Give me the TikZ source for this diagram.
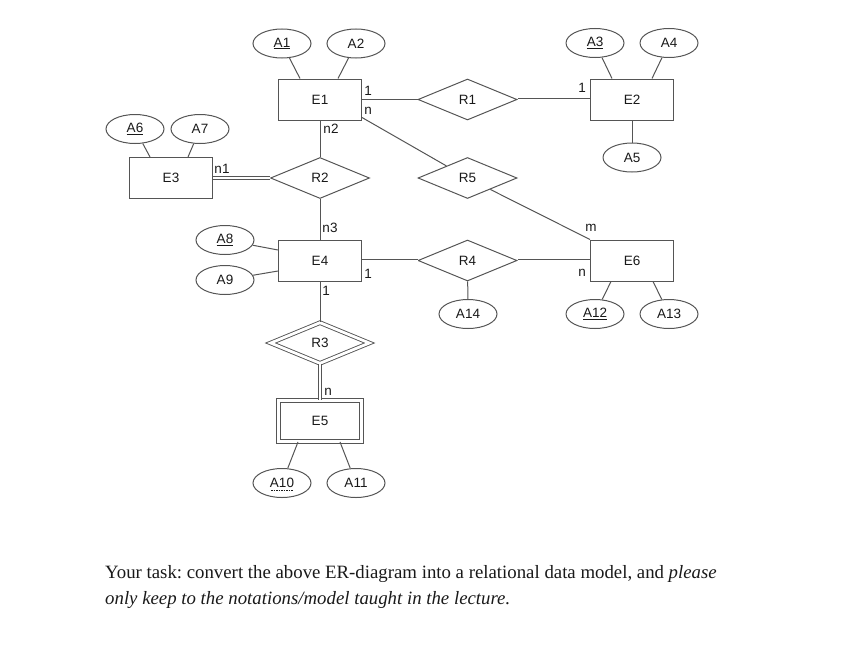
\documentclass[tikz,border=0pt]{standalone}
\usepackage{fontspec}
\setmainfont{Liberation Serif}
\newfontfamily\diagfont{Liberation Sans}
\usetikzlibrary{shapes.geometric}
\definecolor{lc}{RGB}{85,85,85}
\definecolor{tc}{RGB}{25,25,25}
\tikzset{
  dfont/.style={font=\diagfont\fontsize{13.5}{15}\selectfont},
  ent/.style={draw=lc, line width=1pt, rectangle, minimum width=83pt, minimum height=41pt, inner sep=0pt, dfont, text=tc},
  weakent/.style={ent, line width=0.9pt, double=white, double distance=2.6pt},
  attr/.style={draw=lc, line width=1pt, ellipse, minimum width=58pt, minimum height=29pt, inner sep=0pt, dfont, text=tc},
  rel/.style={draw=lc, line width=1pt, diamond, minimum width=99pt, minimum height=41pt, inner sep=0pt, dfont, text=tc},
  weakrel/.style={rel, line width=0.9pt, double=white, double distance=2.8pt},
  conn/.style={draw=lc, line width=1pt},
  dconn/.style={draw=lc, line width=0.8pt, double=white, double distance=2pt},
  card/.style={dfont, text=tc, inner sep=0pt},
  para/.style={font=\fontsize{18.8}{22}\selectfont, text=tc, inner sep=0pt, anchor=base west}
}
\frenchspacing
\begin{document}
\begin{tikzpicture}[x=1pt,y=-1pt]
\useasboundingbox (0,0) rectangle (842,661);
% entities
\node[ent] (E1) at (320,99.5) {E1};
\node[ent] (E2) at (632,99.5) {E2};
\node[ent] (E3) at (171,178) {E3};
\node[ent] (E4) at (320,260.5) {E4};
\node[weakent] (E5) at (320,421) {E5};
\node[ent] (E6) at (632,260.5) {E6};
% relationships
\node[rel] (R1) at (467.5,99.5) {R1};
\node[rel] (R2) at (320,178) {R2};
\node[weakrel] (R3) at (320,343) {R3};
\node[rel] (R4) at (467.5,260.5) {R4};
\node[rel] (R5) at (467.5,178) {R5};
% attributes
\node[attr] (A1) at (282,43.5) {\underline{A1}};
\node[attr] (A2) at (356,43.5) {A2};
\node[attr] (A3) at (595,43) {\underline{A3}};
\node[attr] (A4) at (669,43) {A4};
\node[attr] (A5) at (632,157.5) {A5};
\node[attr] (A6) at (135,129) {\underline{A6}};
\node[attr] (A7) at (200,129) {A7};
\node[attr] (A8) at (225,240) {\underline{A8}};
\node[attr] (A9) at (225,280) {A9};
\node[attr] (A10) at (282,483) {A10};
\node[attr] (A11) at (356,483) {A11};
\node[attr] (A12) at (595,314) {\underline{A12}};
\node[attr] (A13) at (669,314) {A13};
\node[attr] (A14) at (468,314) {A14};
\draw[draw=tc, line width=0.6pt, dash pattern=on 1.5pt off 1pt] ([xshift=-11pt,yshift=-6.8pt]A10.center) -- ([xshift=11pt,yshift=-6.8pt]A10.center);
% attribute links
\draw[conn] (A1) -- ([xshift=-20pt]E1.north);
\draw[conn] (A2) -- ([xshift=18pt]E1.north);
\draw[conn] (A3) -- ([xshift=-20pt]E2.north);
\draw[conn] (A4) -- ([xshift=20pt]E2.north);
\draw[conn] (E2) -- (A5);
\draw[conn] (A6) -- ([xshift=-21pt]E3.north);
\draw[conn] (A7) -- ([xshift=17pt]E3.north);
\draw[conn] (A8) -- ([yshift=10.5pt]E4.west);
\draw[conn] (A9) -- ([yshift=-10.5pt]E4.west);
\draw[conn] (A10) -- ([xshift=-22pt]E5.south);
\draw[conn] (A11) -- ([xshift=20pt]E5.south);
\draw[conn] (A12) -- ([xshift=-21pt]E6.south);
\draw[conn] (A13) -- ([xshift=21pt]E6.south);
\draw[conn] (R4) -- (A14);
% relationship links
\draw[conn] (E1.east) -- (R1.west);
\draw[dconn] (R1.east) -- (E2.west);
\draw[conn] ([yshift=3pt]E1.south east) -- (R5);
\draw[conn] (R5) -- (E6.north west);
\draw[conn] (E1.south) -- (R2.north);
\draw[dconn] (E3.east) -- (R2.west);
\draw[conn] (R2.south) -- (E4.north);
\draw[dconn] (E4.east) -- (R4.west);
\draw[dconn] (R4.east) -- (E6.west);
\draw[conn] (E4.south) -- (R3.north);
\draw[dconn] (R3.south) -- (E5.north);
% cardinalities
\node[card] (c1) at (368,91) {1};
\node[card] (c2) at (368,111) {n};
\node[card] (c3) at (331,129) {n2};
\node[card] (c4) at (222,169) {n1};
\node[card] (c5) at (582,88) {1};
\node[card] (c6) at (330,228) {n3};
\node[card] (c7) at (368,274) {1};
\node[card] (c8) at (326,291) {1};
\node[card] (c9) at (328,392) {n};
\node[card] (c10) at (591,228) {m};
\node[card] (c11) at (582,273) {n};
% text
\node[para] (t1) at (105,578) {Your task: convert the above ER-diagram into a relational data model, and \textit{please}};
\node[para] (t2) at (105,604) {\textit{only keep to the notations/model taught in the lecture.}};
\end{tikzpicture}
\end{document}
